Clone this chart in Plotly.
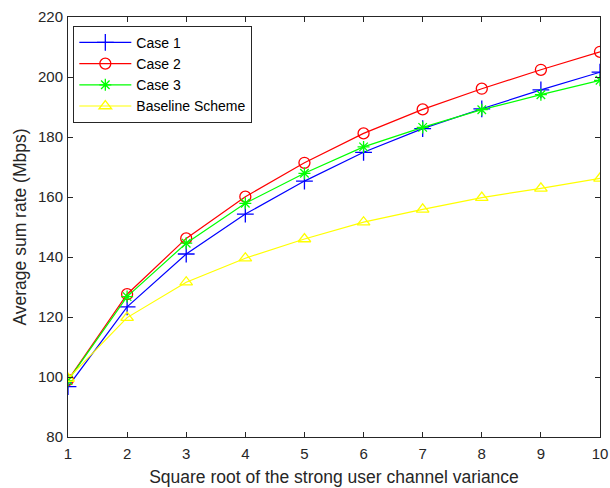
import plotly.graph_objects as go

x_vals = [1, 2, 3, 4, 5, 6, 7, 8, 9, 10]
case1 = [96.8, 123.4, 141.0, 154.3, 165.3, 174.9, 182.8, 189.4, 195.7, 201.6]
case2 = [99.0, 127.6, 146.2, 160.1, 171.4, 181.2, 189.2, 196.1, 202.4, 208.4]
case3 = [98.8, 126.8, 144.6, 157.9, 167.9, 176.7, 183.2, 189.1, 194.1, 198.9]
baseline = [99.5, 119.8, 131.6, 139.6, 146.0, 151.6, 155.9, 159.8, 162.9, 166.2]

series = [
    ("Case 1", case1, "#0000FF", "cross-thin", 12),
    ("Case 2", case2, "#FF0000", "circle-open", 11),
    ("Case 3", case3, "#00FF00", "asterisk-open", 10),
    ("Baseline Scheme", baseline, "#FFFF00", "triangle-up-open", 11),
]

fig = go.Figure()
for name, vals, color, sym, size in series:
    fig.add_trace(go.Scatter(
        x=x_vals, y=vals, name=name, mode="lines+markers",
        line=dict(color=color, width=1.2),
        marker=dict(symbol=sym, size=size, color=color,
                    line=dict(color=color, width=1.3)),
    ))

axis_common = dict(
    showline=True, linecolor="#262626", linewidth=1, mirror="ticks",
    ticks="inside", ticklen=5, tickcolor="#262626", showgrid=False,
    zeroline=False, automargin=True,
    tickfont=dict(family="Liberation Sans, Arial", size=15, color="#262626"),
)

fig.update_layout(
    width=610, height=488,
    margin=dict(l=68, r=10, t=17, b=51, autoexpand=False),
    paper_bgcolor="white", plot_bgcolor="white",
    font=dict(family="Liberation Sans, Arial", color="#262626"),
    xaxis=dict(range=[1, 10], tickvals=x_vals, ticklabelstandoff=3, title=dict(
        text="Square root of the strong user channel variance",
        font=dict(size=17.5, color="#262626"), standoff=9), **axis_common),
    yaxis=dict(range=[80, 220], tickvals=[80, 100, 120, 140, 160, 180, 200, 220],
               ticklabelstandoff=1,
               title=dict(text="Average sum rate (Mbps)", font=dict(size=17.5, color="#262626"),
                          standoff=6),
               **axis_common),
    legend=dict(x=0.01, y=0.979, xanchor="left", yanchor="top",
                bgcolor="white", bordercolor="#262626", borderwidth=1,
                font=dict(size=14, color="black"), tracegroupgap=0,
                itemwidth=52),
    showlegend=True,
)

fig.write_html("out.html", config={"displayModeBar": False},
               post_script="document.body.style.margin='0';document.body.style.overflow='hidden';")
